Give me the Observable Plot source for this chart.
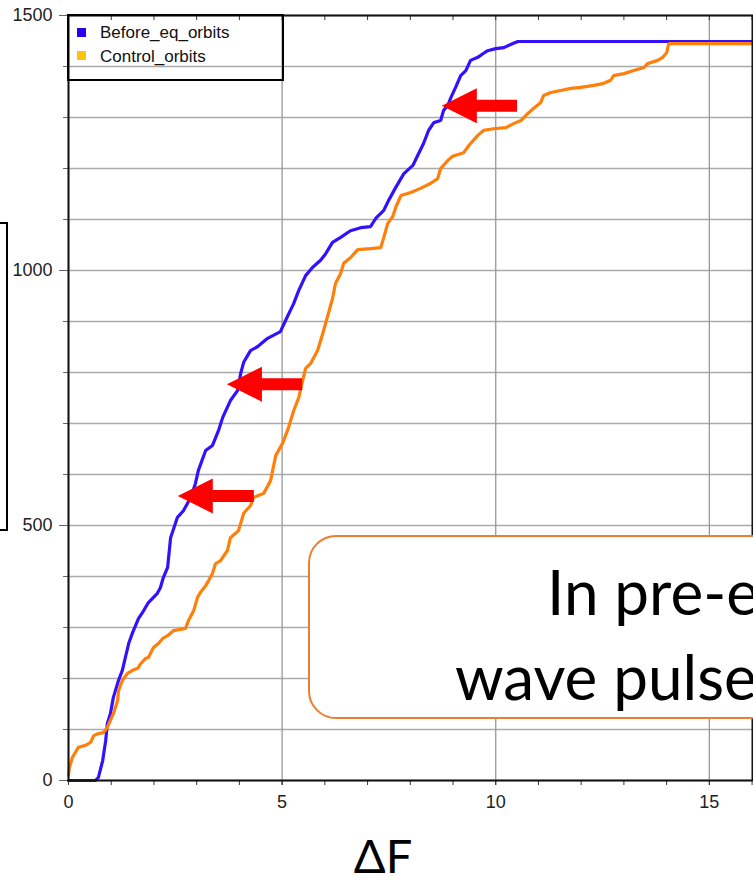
<!DOCTYPE html>
<html>
<head>
<meta charset="utf-8">
<script src="https://cdn.jsdelivr.net/npm/d3@7"></script>
<script src="https://cdn.jsdelivr.net/npm/@observablehq/plot@0.6"></script>
<style>
  html, body { margin: 0; padding: 0; background: #fff; }
  body { width: 753px; height: 883px; overflow: hidden; position: relative; font-family: "Liberation Sans", Arial, sans-serif; }
  #chart { position: absolute; left: 0; top: 0; }
  .abs { position: absolute; }
  .legend { left: 67px; top: 14px; width: 213px; height: 63px; border: 2px solid #000; }
  .lg-sq { position: absolute; width: 9px; height: 9px; }
  .lg-tx { position: absolute; font-size: 17px; line-height: 1; color: #111; white-space: nowrap; }
  .bracket { left: -10px; top: 222px; width: 14px; height: 305px; border: 2px solid #000; }
  .note { left: 308px; top: 535px; width: 700px; height: 180px; border: 2.5px solid #ed7d31; border-radius: 28px; background: #fff; }
  .note-tx { position: absolute; font-family: Lato, "Open Sans", sans-serif; font-size: 62px; line-height: 1; color: #000; white-space: nowrap; }
  .xlabel { left: 283px; width: 200px; top: 832px; text-align: center; font-family: Lato, "Open Sans", sans-serif; font-size: 47px; line-height: 1; color: #000; }
</style>
</head>
<body>
<div id="chart"></div>
<div class="abs bracket"></div>
<div class="abs legend"></div>
<div class="lg-sq" style="left:77px; top:28px; background:#2a00ee;"></div>
<div class="lg-tx" style="left:100px; top:24px;">Before_eq_orbits</div>
<div class="lg-sq" style="left:77px; top:51px; background:#ffc20e;"></div>
<div class="lg-tx" style="left:100px; top:48px;">Control_orbits</div>
<div class="abs note"></div>
<div class="note-tx" style="left:547px; top:560px;">In pre-e</div>
<div class="note-tx" style="left:455px; top:645px;">wave pulse</div>
<div class="abs xlabel">ΔF</div>
<script>
// ---- data ----
const seriesNames = ["Before_eq_orbits", "Control_orbits"];

const blueX = [0, 0.63, 0.70, 0.80, 0.87, 0.91, 0.98, 1.05, 1.17, 1.26, 1.33, 1.41, 1.50, 1.64, 1.73, 1.87, 2.08, 2.15, 2.22, 2.32, 2.39, 2.55, 2.69, 2.86, 2.97, 3.04, 3.21, 3.37, 3.51, 3.61, 3.79, 3.96, 4.03, 4.10, 4.26, 4.43, 4.66, 4.96, 5.08, 5.27, 5.39, 5.55, 5.71, 5.90, 6.02, 6.18, 6.37, 6.60, 6.84, 7.07, 7.19, 7.38, 7.49, 7.66, 7.85, 8.06, 8.17, 8.31, 8.43, 8.55, 8.71, 8.78, 8.88, 8.95, 9.06, 9.18, 9.30, 9.41, 9.58, 9.70, 9.81, 10.0, 10.19, 10.40, 10.52, 16.01];
const blueY = [0, 0, 6, 39, 78, 112, 131, 163, 196, 216, 241, 269, 290, 318, 329, 349, 367, 378, 398, 418, 476, 516, 529, 555, 582, 608, 647, 657, 686, 712, 745, 765, 798, 820, 843, 851, 867, 880, 902, 935, 961, 990, 1006, 1020, 1033, 1055, 1065, 1078, 1084, 1086, 1102, 1118, 1137, 1163, 1190, 1206, 1225, 1249, 1275, 1290, 1294, 1314, 1324, 1339, 1359, 1382, 1392, 1412, 1418, 1425, 1431, 1435, 1437, 1445, 1449, 1449];

const orangeX = [0, 0.02, 0.09, 0.23, 0.40, 0.52, 0.59, 0.70, 0.82, 0.91, 0.98, 1.05, 1.15, 1.17, 1.26, 1.38, 1.50, 1.62, 1.69, 1.80, 1.87, 1.99, 2.11, 2.20, 2.32, 2.46, 2.74, 2.81, 2.93, 3.02, 3.09, 3.21, 3.28, 3.37, 3.44, 3.56, 3.72, 3.79, 3.98, 4.10, 4.26, 4.33, 4.57, 4.73, 4.85, 5.01, 5.15, 5.27, 5.39, 5.48, 5.55, 5.67, 5.83, 5.95, 6.07, 6.18, 6.25, 6.37, 6.44, 6.60, 6.77, 7.07, 7.31, 7.38, 7.47, 7.59, 7.66, 7.78, 8.01, 8.24, 8.48, 8.64, 8.71, 8.88, 8.99, 9.25, 9.37, 9.58, 9.72, 9.95, 10.23, 10.42, 10.59, 10.75, 10.89, 11.05, 11.12, 11.29, 11.52, 11.76, 11.99, 12.30, 12.53, 12.69, 12.76, 13.00, 13.23, 13.47, 13.56, 13.79, 13.91, 14.00, 14.05, 16.01];
const orangeY = [10, 25, 45, 65, 69, 75, 88, 92, 94, 104, 118, 131, 157, 176, 196, 210, 216, 220, 229, 239, 241, 261, 269, 278, 284, 294, 298, 314, 333, 359, 369, 382, 392, 406, 425, 431, 451, 476, 490, 524, 539, 555, 563, 588, 637, 661, 692, 725, 751, 784, 808, 818, 843, 876, 912, 945, 975, 994, 1014, 1025, 1041, 1043, 1045, 1065, 1092, 1106, 1124, 1147, 1153, 1161, 1171, 1180, 1200, 1216, 1224, 1231, 1245, 1265, 1275, 1278, 1280, 1288, 1294, 1308, 1318, 1329, 1343, 1349, 1353, 1357, 1359, 1363, 1367, 1373, 1382, 1386, 1392, 1398, 1406, 1412, 1418, 1427, 1445, 1445];

// annotation arrows (data units): tip, tail, level
const arrowTipX  = [2.57, 3.72, 8.75];
const arrowTailX = [4.35, 5.48, 10.51];
const arrowY     = [557, 776, 1322];

// tick values
const yMajorTicks = [0, 500, 1000, 1500];
const yMinorTicks = d3.range(0, 1501, 100);
const xMajorTicks = [0, 5, 10, 15];
const xMinorTicks = d3.range(0, 17, 1);

// ---- build ----
const blue = blueX.map((x, i) => ({x, y: blueY[i], s: seriesNames[0]}));
const orange = orangeX.map((x, i) => ({x, y: orangeY[i], s: seriesNames[1]}));
const arrows = arrowTipX.map((t, i) => ({tip: t, tail: arrowTailX[i], y: arrowY[i]}));

function arrowMark(index, scales, values, dimensions, context) {
  const g = d3.create("svg:g");
  const sx = scales.x, sy = scales.y;
  for (const a of arrows) {
    const tip = sx(a.tip), tail = sx(a.tail), yy = sy(a.y);
    const hl = 35, hh = 17.5, sh = 6;
    g.append("path")
      .attr("fill", "#ff0000")
      .attr("d", `M${tip},${yy} L${tip + hl},${yy - hh} L${tip + hl},${yy - sh} L${tail},${yy - sh} L${tail},${yy + sh} L${tip + hl},${yy + sh} L${tip + hl},${yy + hh} Z`);
  }
  return g.node();
}

const chart = Plot.plot({
  width: 753,
  height: 883,
  marginLeft: 68,
  marginRight: 1,
  marginTop: 15,
  marginBottom: 103,
  x: {domain: [0, 16.01]},
  y: {domain: [0, 1500]},
  style: {fontFamily: "Liberation Sans, Arial, sans-serif", fontSize: "18px", background: "transparent", color: "#222"},
  marks: [
    Plot.gridY(yMinorTicks, {stroke: "#aaa", strokeOpacity: 1, strokeWidth: 1.3}),
    Plot.gridX(xMajorTicks, {stroke: "#999", strokeOpacity: 1, strokeWidth: 1.3}),
    Plot.axisY(yMinorTicks, {tickSize: 5, tickFormat: () => "", label: null, stroke: "#666"}),
    Plot.axisY(yMajorTicks, {tickSize: 9, tickPadding: 7, label: null, fontSize: 18, stroke: "#666", tickFormat: d => String(d)}),
    Plot.axisX(xMinorTicks, {tickSize: 5, tickFormat: () => "", label: null, stroke: "#333"}),
    Plot.axisX(xMajorTicks, {tickSize: 5, tickPadding: 10, label: null, fontSize: 18, stroke: "#333", tickFormat: d => String(d)}),
    Plot.ruleX(xMinorTicks, {y1: 1500, y2: 1490, stroke: "#333"}),
    Plot.line(blue, {x: "x", y: "y", stroke: "#3311ff", strokeWidth: 3.2, strokeLinejoin: "miter"}),
    Plot.line(orange, {x: "x", y: "y", stroke: "#ff7f0a", strokeWidth: 3.2, strokeLinejoin: "miter"}),
    Plot.frame({stroke: "#111", strokeWidth: 2}),
    arrowMark
  ]
});
document.getElementById("chart").appendChild(chart);
</script>
</body>
</html>
